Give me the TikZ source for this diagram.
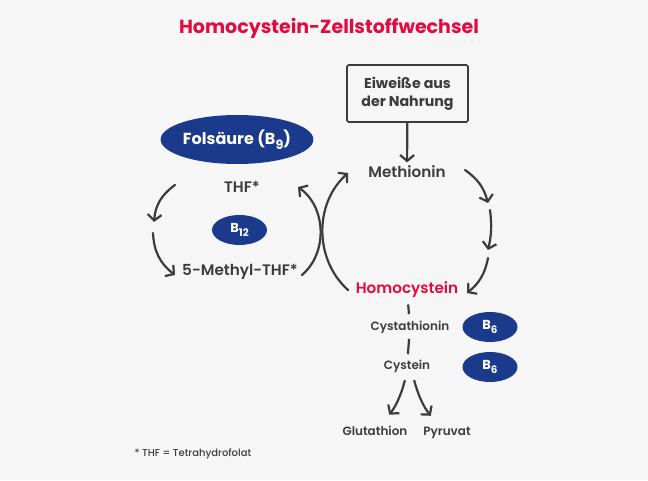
\documentclass[tikz,border=0pt]{standalone}
\usepackage{fontspec}
\setmainfont{Poppins Medium}[BoldFont=Poppins SemiBold]
\newfontfamily\popbold{Poppins Bold}
\usetikzlibrary{shapes.geometric, arrows.meta, positioning}
\definecolor{bggray}{HTML}{F6F6F6}
\definecolor{txgray}{HTML}{3C3C3C}
\definecolor{hcred}{HTML}{E20A3E}
\definecolor{vitblue}{HTML}{1B3A8C}
\newcommand{\vsub}[1]{\raisebox{-0.28em}{\scalebox{0.8}{#1}}}

\begin{document}
\begin{tikzpicture}[x=1pt,y=1pt,
    arr/.style={draw=txgray,line width=2.2pt,line cap=round,-{Straight Barb[length=6pt,width=14pt]}},
    tick/.style={draw=txgray,line width=2.2pt},
    metab/.style={text=txgray,font=\fontsize{15.2}{17}\selectfont\bfseries},
    metabsm/.style={text=txgray,font=\fontsize{12}{14}\selectfont\bfseries},
    vit/.style={ellipse,fill=vitblue,text=white,inner sep=0pt,
        minimum width=55pt,minimum height=30pt,font=\fontsize{13}{15}\selectfont\popbold}]

    \fill[bggray] (0,0) rectangle (648,480);
    \useasboundingbox (0,0) rectangle (648,480);

    \node[text=hcred,font=\fontsize{19}{22}\selectfont\popbold] (title) at (329,452) {Homocystein-Zellstoffwechsel};

    % Folsaeure-Zyklus
    \node[vit,minimum width=140pt,minimum height=49pt,font=\fontsize{16}{18}\selectfont\popbold] (fol) at (237,340.5) {Folsäure (B\vsub{9})};
    \node[metab] (thf) at (242,293) {THF*};
    \node[vit] (b12) at (239.5,250) {B\vsub{12}};
    \node[metab] (mthf) at (240,208) {5-Methyl-THF*};

    % Methionin-Zyklus
    \node[draw=txgray,line width=1.6pt,rounded corners=1.5pt,minimum width=121pt,minimum height=57pt,
        align=center,text=txgray,font=\fontsize{14.2}{18}\selectfont\popbold] (food) at (407.5,386.5) {Eiweiße aus\\der Nahrung};
    \node[metab] (meth) at (407,308) {Methionin};
    \node[metab,text=hcred] (homo) at (407,190) {Homocystein};
    \node[metabsm] (cysta) at (410,153) {Cystathionin};
    \node[vit] (b6a) at (490,153) {B\vsub{6}};
    \node[metabsm] (cys) at (407,114) {Cystein};
    \node[vit] (b6b) at (490,113) {B\vsub{6}};
    \node[metabsm,anchor=base] (glut) at (375,44.5) {Glutathion};
    \node[metabsm,anchor=base] (pyr) at (447,44.5) {Pyruvat};

    \node[anchor=west,text=txgray,font=\fontsize{10}{12}\selectfont] (note) at (131,26) {* THF = Tetrahydrofolat};

    % Bogenenden
    \coordinate (a1s) at (175,295);
    \coordinate (a1e) at (154,258);
    \coordinate (a2s) at (153,247);
    \coordinate (a2e) at (175,205);
    \coordinate (a3s) at (302,205);
    \coordinate (a3e) at (298,293);
    \coordinate (a4s) at (348,190);
    \coordinate (a4e) at (348,307);
    \coordinate (a5s) at (465,310);
    \coordinate (a5e) at (488,277);
    \coordinate (a6s) at (490,270);
    \coordinate (a6e) at (488,230);
    \coordinate (a7s) at (488,222);
    \coordinate (a7e) at (467,187);

    \draw[arr] (a1s) to[bend right=25] (a1e);
    \draw[arr] (a2s) to[bend right=25] (a2e);
    \draw[arr] (a3s) to[bend right=52] (a3e);
    \draw[arr] (a4s) to[bend left=48] (a4e);
    \draw[arr] (a5s) to[bend left=20] (a5e);
    \draw[arr] (a6s) to[bend left=10] (a6e);
    \draw[arr] (a7s) to[bend left=20] (a7e);

    \draw[arr] (food) -- (meth);
    \draw[tick,shorten <=3pt,shorten >=3pt] (homo) -- (cysta);
    \draw[tick,shorten <=2pt,shorten >=2pt] (cysta) -- (cys);
    \draw[arr,shorten <=5pt,shorten >=10pt] ([xshift=-1pt]cys.south) to[bend left=12] ([xshift=8pt]glut.north);
    \draw[arr,shorten <=5pt,shorten >=10pt] ([xshift=6pt]cys.south) to[bend right=12] ([xshift=-10pt]pyr.north);
\end{tikzpicture}
\end{document}
